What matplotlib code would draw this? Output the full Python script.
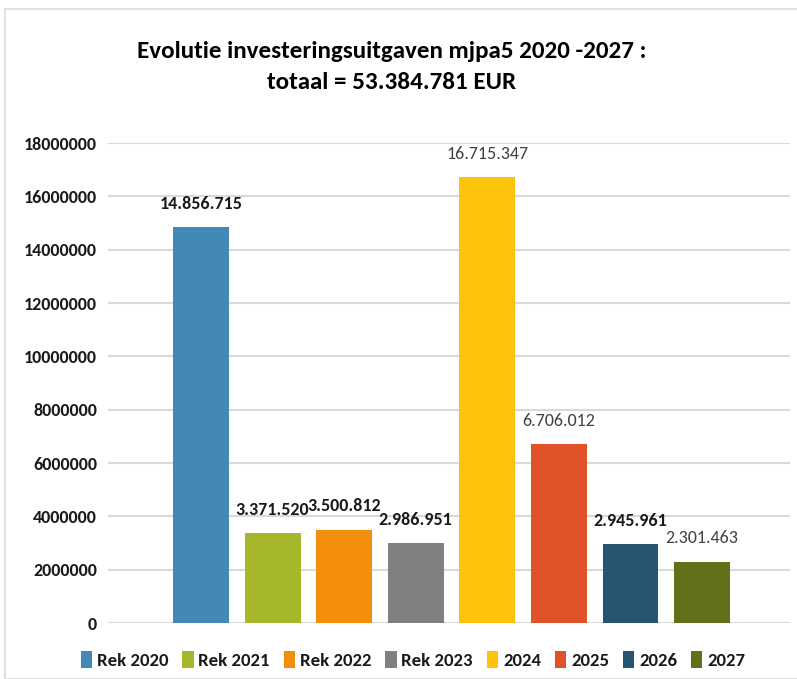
import matplotlib
matplotlib.use("Agg")
import matplotlib.pyplot as plt
from matplotlib.patches import Rectangle, Patch

fam = ['Carlito', 'DejaVu Sans']
plt.rcParams['font.family'] = fam

categories = ["Rek 2020", "Rek 2021", "Rek 2022", "Rek 2023", "2024", "2025", "2026", "2027"]
values = [14856715, 3371520, 3500812, 2986951, 16715347, 6706012, 2945961, 2301463]
value_labels = ["14.856.715", "3.371.520", "3.500.812", "2.986.951", "16.715.347", "6.706.012", "2.945.961", "2.301.463"]
label_bold = [True, True, True, True, False, False, True, False]
colors = ["#4389b5", "#a6b72b", "#f28e0b", "#808080", "#fdc20c", "#e05328", "#255570", "#647019"]
yticks = [0, 2000000, 4000000, 6000000, 8000000, 10000000, 12000000, 14000000, 16000000, 18000000]
title = "Evolutie investeringsuitgaven mjpa5 2020 -2027 :\ntotaal = 53.384.781 EUR"

W, H = 797, 679
fig = plt.figure(figsize=(W / 100, H / 100), dpi=100)
fig.patches.append(Rectangle((5 / W, 0), 1, 1 - 9 / H, transform=fig.transFigure,
                             fill=False, edgecolor="#d9d9d9", linewidth=1.2))

ax = fig.add_axes([108 / W, 1 - 623 / H, (790 - 108) / W, (623 - 143) / H])
x = list(range(len(categories)))
bars = ax.bar(x, values, width=0.78, color=colors, zorder=3)
ax.set_xlim(-1.30, 8.23)
ax.set_ylim(0, 18000000)
ax.set_yticks(yticks)
ax.set_yticklabels([str(v) for v in yticks], fontsize=13, fontweight="bold", color="#1a1a1a")
ax.set_xticks([])
ax.tick_params(axis="y", length=0, pad=8)
for s in ax.spines.values():
    s.set_visible(False)
ax.grid(axis="y", color="#d9d9d9", linewidth=1.5, zorder=0)

for xi, v, lab, b in zip(x, values, value_labels, label_bold):
    ax.annotate(lab, (xi, v), xytext=(0, 11), textcoords="offset points",
                ha="center", va="bottom", fontsize=13,
                fontweight="bold" if b else "normal",
                color="#1a1a1a" if b else "#404040", zorder=4)

fig.text(392 / W, 1 - 67 / H, title, ha="center", va="center", fontsize=18,
         fontweight="bold", color="#000000", linespacing=1.6)

handles = [Patch(facecolor=c, edgecolor="none") for c in colors]
leg = fig.legend(handles, categories, loc="center", bbox_to_anchor=(413 / W, 1 - 660 / H),
                 ncol=8, frameon=False, handlelength=0.6, handleheight=1.0,
                 handletextpad=0.25, columnspacing=0.75,
                 prop={"size": 13.5, "weight": "bold", "family": fam})
for t in leg.get_texts():
    t.set_color("#1a1a1a")

fig.savefig("out.png", dpi=100)
